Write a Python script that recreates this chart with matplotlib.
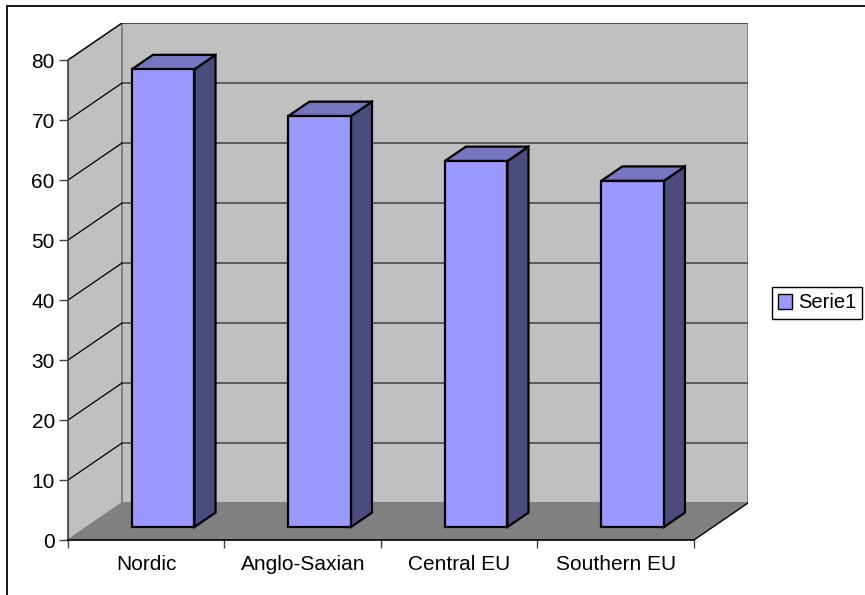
import matplotlib
matplotlib.use("Agg")
import matplotlib.pyplot as plt
from matplotlib.patches import Polygon, Patch
from matplotlib.lines import Line2D

plt.rcParams['font.family'] = ['Liberation Sans', 'DejaVu Sans']

# --- data
regions = ['Nordic', 'Anglo-Saxian', 'Central EU', 'Southern EU']
values = [76.3, 68.5, 61.0, 57.7]
yticks = [0, 10, 20, 30, 40, 50, 60, 70, 80]
series_name = 'Serie1'

# --- 3d look (depth of the walls in data units)
DX = 0.3456
DY = 6.17
YMAX = 80
n = len(regions)

fig = plt.figure(figsize=(8.65, 5.95), dpi=100)
W, H = 865, 595
ax = fig.add_axes([68 / W, (H - 540) / H, (748 - 68) / W, (540 - 23) / H])
ax.set_xlim(0, n + DX)
ax.set_ylim(0, YMAX + DY)
ax.patch.set_visible(False)

wall = '#C0C0C0'
floor = '#808080'

# walls and floor
ax.add_patch(Polygon([(0, 0), (0, YMAX), (DX, YMAX + DY), (DX, DY)],
                     facecolor=wall, edgecolor='#808080', lw=1.2, zorder=1))
ax.add_patch(Polygon([(DX, DY), (n + DX, DY), (n + DX, YMAX + DY), (DX, YMAX + DY)],
                     facecolor=wall, edgecolor='#808080', lw=1.4, zorder=1))
ax.add_patch(Polygon([(0, 0), (n, 0), (n + DX, DY), (DX, DY)],
                     facecolor=floor, edgecolor='none', zorder=1))
ax.plot([n, n + DX], [0, DY], color='black', lw=1, zorder=2)

# gridlines on back and side walls
for v in yticks[1:]:
    ax.plot([DX, n + DX], [v + DY, v + DY], color='#404040', lw=1.1, zorder=2)
    ax.plot([0, DX], [v, v + DY], color='black', lw=0.9, zorder=2)

# bars
front_col = '#9999FF'
top_col = '#7575C0'
side_col = '#4B4B7E'
d0, d1 = 0.351, 0.74
for i, v in enumerate(values):
    x0, x1 = i + 0.287, i + 0.687
    fx, fy = d0 * DX, d0 * DY
    bx, by = d1 * DX, d1 * DY
    kw = dict(edgecolor='black', lw=1.6, joinstyle='miter', zorder=3)
    ax.add_patch(Polygon([(x1 + fx, fy), (x1 + bx, by), (x1 + bx, v + by), (x1 + fx, v + fy)],
                         facecolor=side_col, **kw))
    ax.add_patch(Polygon([(x0 + fx, v + fy), (x1 + fx, v + fy), (x1 + bx, v + by), (x0 + bx, v + by)],
                         facecolor=top_col, **kw))
    ax.add_patch(Polygon([(x0 + fx, fy), (x1 + fx, fy), (x1 + fx, v + fy), (x0 + fx, v + fy)],
                         facecolor=front_col, **kw))

# axes
for s in ['top', 'right']:
    ax.spines[s].set_visible(False)
ax.spines['left'].set_bounds(0, YMAX)
ax.spines['left'].set_color('#404040')
ax.spines['left'].set_linewidth(1.2)
ax.spines['bottom'].set_bounds(0, n)
ax.spines['bottom'].set_color('black')
ax.spines['bottom'].set_linewidth(1.2)
ax.spines['left'].set_zorder(4)
ax.spines['bottom'].set_zorder(4)

ax.set_yticks(yticks)
ax.tick_params(axis='y', length=6.5, width=1, color='#404040', pad=3, labelsize=15)
ax.set_xticks(range(n + 1))
ax.set_xticklabels([])
ax.tick_params(axis='x', which='major', length=5.5, width=1, color='#404040')
ax.set_xticks([i + 0.5 for i in range(n)], minor=True)
ax.set_xticklabels(regions, minor=True)
ax.tick_params(axis='x', which='minor', length=0, pad=10.5, labelsize=15)

# legend
leg = fig.legend(handles=[Patch(facecolor=front_col, edgecolor='black', lw=1, label=series_name)],
                 loc='center left', bbox_to_anchor=(772 / W, 1 - 303 / H),
                 frameon=True, fancybox=False, edgecolor='black', framealpha=1,
                 fontsize=14.5, handlelength=0.7, handleheight=0.7, handletextpad=0.3,
                 borderpad=0.3, borderaxespad=0)
leg.get_frame().set_linewidth(1)

# chart border
fig.add_artist(Line2D([6.5 / W, 6.5 / W], [0, 1 - 5.5 / H], color='black', lw=1.3,
                      transform=fig.transFigure))
fig.add_artist(Line2D([6.5 / W, 1], [1 - 5.5 / H, 1 - 5.5 / H], color='black', lw=1.3,
                      transform=fig.transFigure))

fig.savefig('out.png', dpi=100)
